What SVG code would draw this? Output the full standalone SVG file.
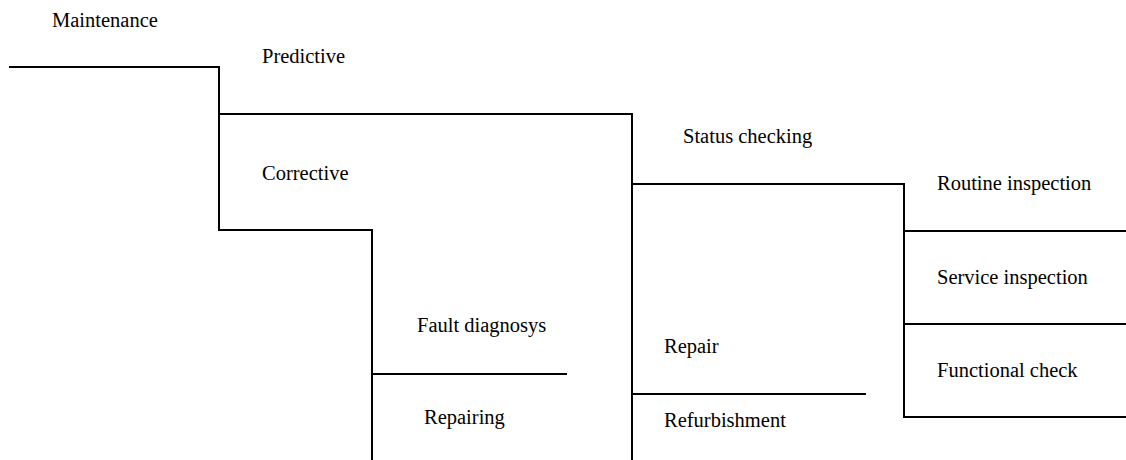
<svg xmlns="http://www.w3.org/2000/svg" width="1126" height="460" viewBox="0 0 1126 460">
<defs>
<style>
.c{fill:none;stroke:#000;stroke-width:2}
</style>
</defs>
<rect width="1126" height="460" fill="#fff"/>
<g id="connectors">
<polyline class="c" points="9,67 219,67 219,230 372,230 372,460"/>
<polyline class="c" points="219,114 632,114 632,460"/>
<line class="c" x1="372" y1="374" x2="567" y2="374"/>
<polyline class="c" points="632,184 904,184 904,417 1126,417"/>
<line class="c" x1="632" y1="394" x2="866" y2="394"/>
<line class="c" x1="904" y1="231" x2="1126" y2="231"/>
<line class="c" x1="904" y1="324" x2="1126" y2="324"/>
</g>
<g font-family="Liberation Serif, Times New Roman, serif" font-size="20.5" fill="#000">
<g id="maintenance"><text x="52" y="27">Maintenance</text></g>
<g id="predictive"><text x="262" y="63">Predictive</text></g>
<g id="corrective"><text x="262" y="180">Corrective</text></g>
<g id="fault-diagnosys"><text x="417" y="332">Fault diagnosys</text></g>
<g id="repairing"><text x="424" y="424">Repairing</text></g>
<g id="status-checking"><text x="683" y="143">Status checking</text></g>
<g id="repair"><text x="664" y="353">Repair</text></g>
<g id="refurbishment"><text x="664" y="427">Refurbishment</text></g>
<g id="routine-inspection"><text x="937" y="190">Routine inspection</text></g>
<g id="service-inspection"><text x="937" y="284">Service inspection</text></g>
<g id="functional-check"><text x="937" y="377">Functional check</text></g>
</g>
</svg>
